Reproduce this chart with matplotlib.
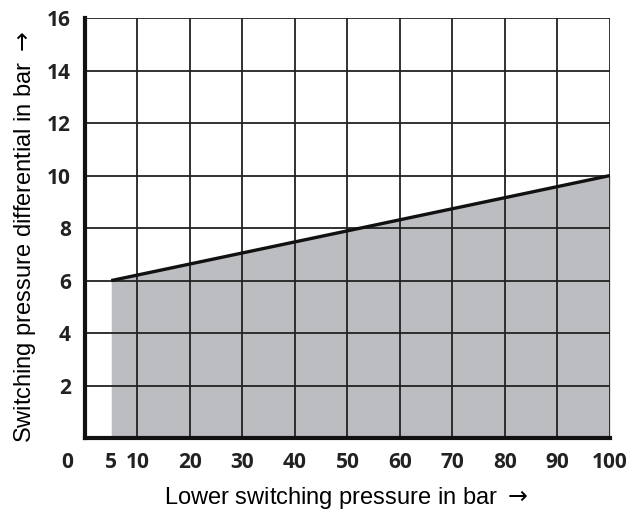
import matplotlib
matplotlib.use("Agg")
import matplotlib.pyplot as plt
import matplotlib.transforms as mtransforms

# boundary line of the shaded region
line_x = [5, 100]
line_y = [6, 10]

x_ticks = [5, 10, 20, 30, 40, 50, 60, 70, 80, 90, 100]
x_grid = [10, 20, 30, 40, 50, 60, 70, 80, 90, 100]
y_ticks = [2, 4, 6, 8, 10, 12, 14, 16]

tick_font = dict(family=["Open Sans", "DejaVu Sans"], weight="bold", size=15)
label_font = dict(family=["Liberation Sans", "DejaVu Sans"], size=17)

fig = plt.figure(figsize=(6.36, 5.16), dpi=100)
ax = fig.add_axes([0.1336, 0.151, 0.8254, 0.814])

ax.fill_between(line_x, line_y, 0, color="#bcbdc0", lw=0, zorder=1)

for gx in x_grid:
    ax.axvline(gx, color="#222222", lw=1.3, zorder=2)
for gy in y_ticks:
    ax.axhline(gy, color="#222222", lw=1.3, zorder=2)

ax.plot(line_x, line_y, color="#111111", lw=2.4, solid_capstyle="butt", zorder=3)

ax.set_xlim(0, 100)
ax.set_ylim(0, 16)

for s in ["top", "right"]:
    ax.spines[s].set_visible(False)
for s in ["left", "bottom"]:
    ax.spines[s].set_linewidth(3)
    ax.spines[s].set_color("#111111")
    ax.spines[s].set_zorder(4)

ax.set_xticks(x_ticks)
ax.set_xticklabels([str(v) for v in x_ticks], **tick_font)
ax.set_yticks(y_ticks)
ax.set_yticklabels([str(v) for v in y_ticks], **tick_font)
ax.tick_params(length=0, pad=10, colors="#222222")
ax.tick_params(axis="x", pad=10)

# corner zero label
trans = mtransforms.offset_copy(ax.transData, fig=fig, x=-18, y=-24, units="dots")
ax.text(0, 0, "0", transform=trans, ha="center", va="center", color="#222222", **tick_font)

ax.set_xlabel(r"Lower switching pressure in bar $\rightarrow$", ha="left", **label_font)
ax.set_ylabel(r"Switching pressure differential in bar $\rightarrow$", ha="left", **label_font)
ax.xaxis.set_label_coords(0.1505, -0.112)
ax.yaxis.set_label_coords(-0.0895, -0.012)

fig.savefig("out.png", dpi=100)
